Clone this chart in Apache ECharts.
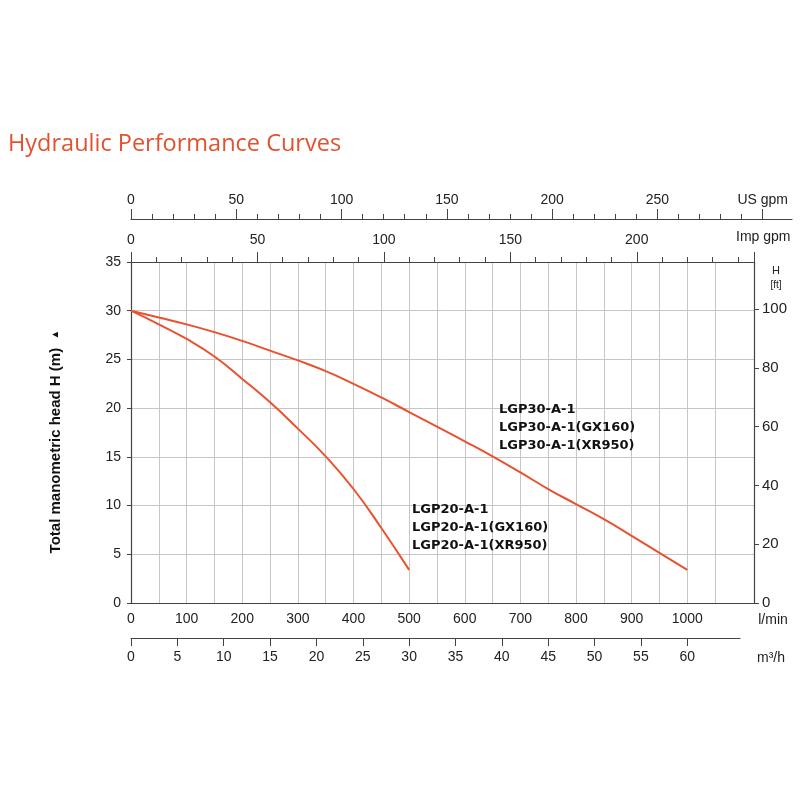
<!DOCTYPE html>
<html>
<head>
<meta charset="utf-8">
<script src="https://cdn.jsdelivr.net/npm/echarts@6/dist/echarts.min.js"></script>
<style>
  html, body { margin: 0; padding: 0; background: #fff; }
  #main { width: 800px; height: 800px; }
</style>
</head>
<body>
<div id="main"></div>
<script>
// LGP20 curve (l/min, m)
var flowA = [0, 50, 100, 150, 200, 250, 300, 350, 400, 450, 500];
var headA = [30.0, 28.6, 27.1, 25.3, 23.0, 20.6, 17.9, 15.05, 11.7, 7.7, 3.4];

// LGP30 curve (l/min, m)
var flowB = [0, 50, 100, 150, 200, 250, 300, 350, 400, 450, 500, 550, 600, 650, 700, 750, 800, 850, 900, 950, 1000];
var headB = [30.0, 29.3, 28.6, 27.8, 26.9, 25.9, 24.9, 23.8, 22.5, 21.1, 19.6, 18.1, 16.6, 15.05, 13.4, 11.7, 10.15, 8.6, 6.9, 5.15, 3.4];

var labelsA = ['LGP20-A-1', 'LGP20-A-1(GX160)', 'LGP20-A-1(XR950)'];
var labelsB = ['LGP30-A-1', 'LGP30-A-1(GX160)', 'LGP30-A-1(XR950)'];

// tick labels
var lminTicks = [0, 100, 200, 300, 400, 500, 600, 700, 800, 900, 1000];
var headTicks = [0, 5, 10, 15, 20, 25, 30, 35];
var feetTicks = [0, 20, 40, 60, 80, 100];
var impTicks = [0, 50, 100, 150, 200];
var usTicks = [0, 50, 100, 150, 200, 250, 300];
var usMinor = [10, 20, 30, 40, 60, 70, 80, 90, 110, 120, 130, 140, 160, 170, 180, 190,
               210, 220, 230, 240, 260, 270, 280, 290];
var m3hTicks = [0, 5, 10, 15, 20, 25, 30, 35, 40, 45, 50, 55, 60];

// same pixel scale on every flow axis: 1 l/min = 0.55625 px
var PX = 0.55625;
var L = 131, T = 262, W = 623, H = 341;

var red = '#e8522f';
var ink = '#222';
var lineCol = '#444';
var gridCol = '#c6c6c6';
var font = 'Liberation Sans';

var tickLabel = { color: ink, fontSize: 14, fontFamily: font, formatter: function (v) { return String(v); } };

function hiddenY(i) {
    return { type: 'value', gridIndex: i, show: false, min: 0, max: 1 };
}

var myChart = echarts.init(document.getElementById('main'));

myChart.setOption({
    animation: false,
    title: {
        text: 'Hydraulic Performance Curves',
        left: 3,
        top: 127,
        textStyle: { color: '#e4512f', fontSize: 23.5, fontWeight: 500, fontFamily: 'Open Sans' }
    },
    grid: [
        { left: L, top: T, width: W, height: H },
        { left: L, top: T, width: 1050 * PX, height: H },
        { left: L, top: 219, width: 661, height: 10 },
        { left: L, top: 219, width: 661, height: 10 },
        { left: L, top: 628, width: 609, height: 10 }
    ],
    xAxis: [
        {   // l/min
            type: 'value', gridIndex: 0, position: 'bottom',
            min: 0, max: W / PX, interval: 50,
            axisLine: { onZero: false, lineStyle: { color: lineCol, width: 1.2 } },
            axisTick: { show: false },
            splitLine: { show: false },
            axisLabel: Object.assign({}, tickLabel, { customValues: lminTicks, margin: 9 })
        },
        {   // Imp gpm
            type: 'value', gridIndex: 0, position: 'top',
            min: 0, max: W / PX / 4.54609, interval: 50,
            axisLine: { onZero: false, lineStyle: { color: lineCol, width: 1.2 } },
            axisTick: { show: true, length: 10, lineStyle: { color: lineCol } },
            minorTick: { show: true, splitNumber: 5, length: 5, lineStyle: { color: lineCol } },
            splitLine: { show: false },
            axisLabel: Object.assign({}, tickLabel, { customValues: impTicks, margin: 15 })
        },
        {   // vertical grid lines
            type: 'value', gridIndex: 1,
            min: 0, max: 1050, interval: 50,
            axisLine: { show: false, onZero: false },
            axisTick: { show: false },
            axisLabel: { show: false },
            splitLine: { show: true, lineStyle: { color: gridCol, width: 1 } }
        },
        {   // US gpm
            type: 'value', gridIndex: 2, position: 'top',
            min: 0, max: 661 / (PX * 3.78541),
            axisLine: { onZero: false, lineStyle: { color: lineCol, width: 1.2 } },
            axisTick: { customValues: usTicks, length: 10, lineStyle: { color: lineCol } },
            splitLine: { show: false },
            axisLabel: Object.assign({}, tickLabel, {
                customValues: usTicks, margin: 12,
                formatter: function (v) { return v === 300 ? 'US gpm' : String(v); }
            })
        },
        {   // US gpm minor ticks
            type: 'value', gridIndex: 3, position: 'top',
            min: 0, max: 661 / (PX * 3.78541),
            axisLine: { show: false, onZero: false },
            axisTick: { customValues: usMinor, length: 5, lineStyle: { color: lineCol } },
            splitLine: { show: false },
            axisLabel: { show: false }
        },
        {   // m3/h
            type: 'value', gridIndex: 4, position: 'bottom',
            min: 0, max: 609 / (PX * 1000 / 60),
            axisLine: { onZero: false, lineStyle: { color: lineCol, width: 1.2 } },
            axisTick: { customValues: m3hTicks, length: 8, lineStyle: { color: lineCol } },
            splitLine: { show: false },
            axisLabel: Object.assign({}, tickLabel, { customValues: m3hTicks, margin: 12 })
        }
    ],
    yAxis: [
        {   // H (m)
            type: 'value', gridIndex: 0, position: 'left',
            min: 0, max: 35, interval: 2.5,
            name: 'Total manometric head H (m)  {a|▲}',
            nameLocation: 'middle', nameGap: 68, nameRotate: 90,
            nameTextStyle: {
                color: '#111', fontSize: 15, fontWeight: 'bold', fontFamily: font,
                padding: [0, 18, 0, 0],
                rich: { a: { fontSize: 10, color: '#111' } }
            },
            axisLine: { show: true, onZero: false, lineStyle: { color: lineCol, width: 1.2 } },
            axisTick: { show: true, customValues: headTicks, length: 4, lineStyle: { color: lineCol } },
            splitLine: { show: true, lineStyle: { color: gridCol, width: 1 } },
            axisLabel: Object.assign({}, tickLabel, { customValues: headTicks, margin: 10 })
        },
        {   // H (ft)
            type: 'value', gridIndex: 0, position: 'right',
            min: 0, max: 116,
            axisLine: { show: true, onZero: false, lineStyle: { color: lineCol, width: 1.2 } },
            axisTick: { show: true, customValues: feetTicks, length: 5, lineStyle: { color: lineCol } },
            splitLine: { show: false },
            axisLabel: Object.assign({}, tickLabel, { customValues: feetTicks, margin: 8, fontSize: 15 })
        },
        hiddenY(1), hiddenY(2), hiddenY(3), hiddenY(4)
    ],
    graphic: [
        { type: 'text', left: 736, top: 230, z: 100, style: { text: 'Imp gpm', fill: ink, font: '14px "Liberation Sans"' } },
        { type: 'text', x: 776, y: 271, z: 100, style: { text: 'H', fill: ink, font: '11px "Liberation Sans"', align: 'center', verticalAlign: 'middle' } },
        { type: 'text', x: 776, y: 285, z: 100, style: { text: '[ft]', fill: ink, font: '10px "Liberation Sans"', align: 'center', verticalAlign: 'middle' } },
        { type: 'text', x: 773, y: 620, z: 100, style: { text: 'l/min', fill: ink, font: '14px "Liberation Sans"', align: 'center', verticalAlign: 'middle' } },
        { type: 'text', x: 771, y: 658, z: 100, style: { text: 'm³/h', fill: ink, font: '14px "Liberation Sans"', align: 'center', verticalAlign: 'middle' } },
        { type: 'text', left: 499, top: 401, z: 100, style: { text: labelsB.join('\n'), fill: '#111', font: 'bold 13px "DejaVu Sans"', lineHeight: 17.8 } },
        { type: 'text', left: 412, top: 501, z: 100, style: { text: labelsA.join('\n'), fill: '#111', font: 'bold 13px "DejaVu Sans"', lineHeight: 17.8 } }
    ],
    series: [
        {
            name: 'LGP20',
            type: 'line',
            xAxisIndex: 0, yAxisIndex: 0,
            smooth: true, showSymbol: false,
            lineStyle: { color: red, width: 2 },
            data: flowA.map(function (x, i) { return [x, headA[i]]; })
        },
        {
            name: 'LGP30',
            type: 'line',
            xAxisIndex: 0, yAxisIndex: 0,
            smooth: true, showSymbol: false,
            lineStyle: { color: red, width: 2 },
            data: flowB.map(function (x, i) { return [x, headB[i]]; })
        }
    ]
});
</script>
</body>
</html>
